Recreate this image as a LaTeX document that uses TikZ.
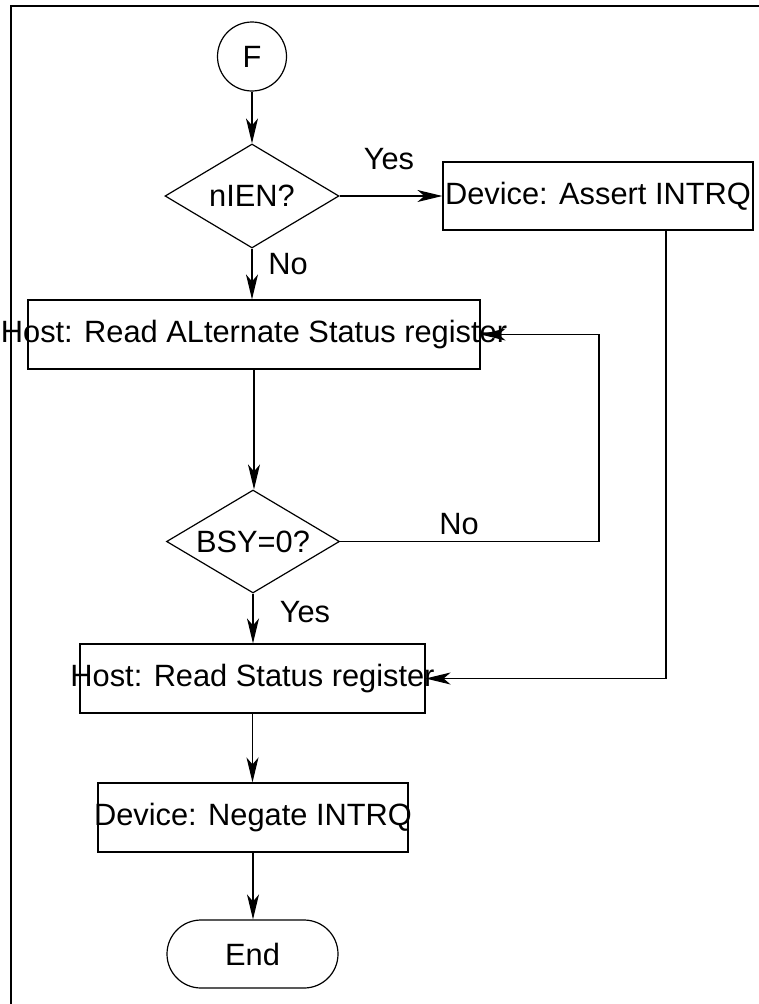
\documentclass[tikz,border=0pt]{standalone}
\usepackage{fontspec}
\setmainfont{Liberation Sans}
\usetikzlibrary{shapes.geometric,shapes.misc,arrows.meta}
\begin{document}
\begin{tikzpicture}[x=1pt,y=-1pt,
  every node/.style={font=\fontsize{30.8}{37}\selectfont},
  line/.style={line width=1.2pt},
  arr/.style={line, -{Stealth[length=25pt,width=12pt,inset=7pt]}},
  proc/.style={draw, line width=1.2pt, rectangle, inner sep=0pt},
  dec/.style={draw, line width=1.2pt, diamond, inner sep=0pt, aspect=1.67},
  lbl/.style={inner sep=0pt}]
\useasboundingbox (0,0) rectangle (759,1004);
\draw[line width=2.4pt] (11,1010) -- (11,6) -- (765,6);
\node[draw, line width=1.2pt, circle, minimum size=69pt, inner sep=0pt] (F) at (252,56.5) {F};
\node[dec, minimum width=174pt, minimum height=104pt] (d1) at (252,196) {nIEN?};
\node[proc, minimum width=310pt, minimum height=68pt, label={[lbl]center:Device: Assert INTRQ}] (assert) at (598,196) {};
\node[proc, minimum width=452pt, minimum height=69pt, label={[lbl]center:Host: Read ALternate Status register}] (alt) at (254,334.5) {};
\node[dec, minimum width=173pt, minimum height=103pt] (d2) at (253,541.5) {BSY=0?};
\node[proc, minimum width=345pt, minimum height=69pt, label={[lbl]center:Host: Read Status register}] (rs) at (252.5,678.5) {};
\node[proc, minimum width=310pt, minimum height=69pt, label={[lbl]center:Device: Negate INTRQ}] (neg) at (253,817.5) {};
\node[draw, line width=1.2pt, rounded rectangle, minimum width=171pt, minimum height=68pt, inner sep=0pt] (end) at (252.5,954) {End};
\node[lbl] (y1) at (389,159) {Yes};
\node[lbl] (n1) at (288,264) {No};
\node[lbl] (n2) at (459,524) {No};
\node[lbl] (y2) at (305,612) {Yes};
\coordinate (loop) at (599,541.5);
\coordinate (drop) at (666,230);
\draw[arr] (F.south) -- (F.south |- d1.north);
\draw[arr] (d1.east) -- (assert.west);
\draw[arr] (d1.south) -- (d1.south |- alt.north);
\draw[arr] (alt.south) -- (alt.south |- d2.north);
\draw[arr] (d2.east) -- (loop) |- (alt.east);
\draw[arr] (d2.south) -- (d2.south |- rs.north);
\draw[arr] (drop) |- (rs.east);
\draw[arr] (rs.south) -- (rs.south |- neg.north);
\draw[arr] (neg.south) -- (neg.south |- end.north);
\end{tikzpicture}
\end{document}
